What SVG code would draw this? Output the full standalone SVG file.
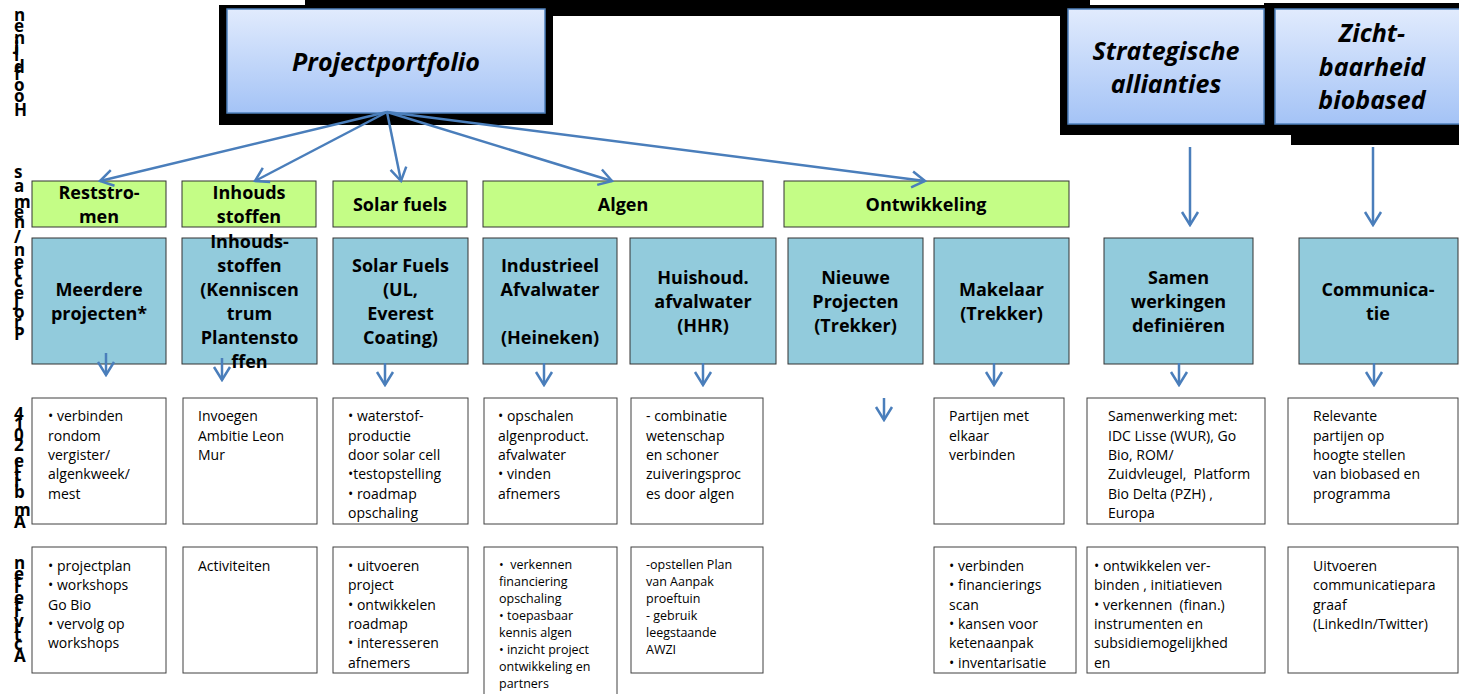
<svg xmlns="http://www.w3.org/2000/svg" width="1459" height="694" viewBox="0 0 1459 694">
<style>
.side{font-family:"Open Sans","Liberation Sans",sans-serif;font-weight:bold;font-size:17px;fill:#000}
.top{font-family:"Open Sans","Liberation Sans",sans-serif;font-weight:bold;font-style:italic;font-size:25px;fill:#000;text-anchor:middle}
.hdr{fill:#c4fd86;stroke:#333;stroke-width:1}
.blue{fill:#92cbdc;stroke:#333;stroke-width:1}
.wbox{fill:#fff;stroke:#404040;stroke-width:1}
.bt{font-family:"Open Sans","Liberation Sans",sans-serif;font-weight:bold;font-size:18px;fill:#000;text-anchor:middle}
.wt{font-family:"Open Sans","Liberation Sans",sans-serif;font-size:14px;fill:#000}
.st{font-family:"Open Sans","Liberation Sans",sans-serif;font-size:12.5px;fill:#000}
.conn{stroke:#4a7ebb;stroke-width:2.5;fill:none}
.tb{stroke:#4f81bd;stroke-width:1.5;fill:url(#g)}
</style>
<defs>
<linearGradient id="g" x1="0" y1="0" x2="0" y2="1">
<stop offset="0" stop-color="#e1ebfd"/>
<stop offset="1" stop-color="#a4c3f6"/>
</linearGradient>
<marker id="ah" viewBox="-16 -10 18 20" refX="0" refY="0" markerWidth="18" markerHeight="20" markerUnits="userSpaceOnUse" orient="auto">
<path d="M-13,-8 L0,0 L-13,8" fill="none" stroke="#4a7ebb" stroke-width="2.5"/>
</marker>
</defs>
<rect width="1459" height="694" fill="#fff"/>

<!-- side labels -->
<g id="side-labels">
<text class="side" transform="translate(14,116) rotate(-90)" rotate="90" textLength="106" lengthAdjust="spacing">Hoofdlijnen</text>
<text class="side" x="14 14 14 14 14" y="178 192 208 218 228">samen</text>
<text class="side" transform="translate(14,340) rotate(-90)" rotate="90" textLength="104" lengthAdjust="spacing">Projecten/</text>
<text class="side" transform="translate(14,528) rotate(-90)" rotate="90" textLength="118" lengthAdjust="spacing">Ambitie 2014</text>
<text class="side" transform="translate(14,662) rotate(-90)" rotate="90" textLength="104" lengthAdjust="spacing">Activiteiten</text>
</g>

<!-- top boxes -->
<g id="shadows">
<rect x="305" y="0" width="785" height="16" fill="#000"/>
<rect x="219" y="5" width="334" height="120" fill="#000"/>
<rect x="1060" y="5" width="231" height="130" fill="#000"/>
<rect x="1264" y="3" width="195" height="121" fill="#000"/>
<rect x="1291" y="124" width="168" height="21" fill="#000"/>
</g>
<g id="projectportfolio">
<rect class="tb" x="227" y="9" width="318" height="104"/>
<text class="top" x="386" y="71">Projectportfolio</text>
</g>
<g id="strategische">
<rect class="tb" x="1068" y="9" width="196" height="115"/>
<text class="top" x="1166" y="60">Strategische</text>
<text class="top" x="1166" y="93">allianties</text>
</g>
<g id="zichtbaarheid">
<rect class="tb" x="1275" y="9" width="190" height="115"/>
<text class="top" x="1372" y="42">Zicht-</text>
<text class="top" x="1372" y="76">baarheid</text>
<text class="top" x="1372" y="109">biobased</text>
</g>

<!-- headers -->
<g id="h-reststromen"><rect class="hdr" x="32" y="181" width="134" height="46"/>
<text class="bt" x="99" y="199">Reststro-</text><text class="bt" x="99" y="223">men</text></g>
<g id="h-inhoud"><rect class="hdr" x="182" y="181" width="134" height="46"/>
<text class="bt" x="249" y="199">Inhouds</text><text class="bt" x="249" y="223">stoffen</text></g>
<g id="h-solar"><rect class="hdr" x="333" y="181" width="134" height="46"/>
<text class="bt" x="400" y="211">Solar fuels</text></g>
<g id="h-algen"><rect class="hdr" x="483" y="181" width="280" height="46"/>
<text class="bt" x="623" y="211">Algen</text></g>
<g id="h-ontwikkeling"><rect class="hdr" x="784" y="181" width="285" height="46"/>
<text class="bt" x="926" y="211">Ontwikkeling</text></g>

<!-- project boxes -->
<g id="p-meerdere"><rect class="blue" x="32" y="238" width="134" height="126"/>
<text class="bt" x="99" y="296">Meerdere</text><text class="bt" x="99" y="320">projecten*</text></g>
<g id="p-inhoud"><rect class="blue" x="182" y="238" width="135" height="126"/>
<text class="bt" x="249.5" y="248">Inhouds-</text><text class="bt" x="249.5" y="272">stoffen</text><text class="bt" x="249.5" y="296">(Kenniscen</text><text class="bt" x="249.5" y="320">trum</text><text class="bt" x="249.5" y="344">Plantensto</text><text class="bt" x="249.5" y="368">ffen</text></g>
<g id="p-solar"><rect class="blue" x="333" y="238" width="135" height="126"/>
<text class="bt" x="400.5" y="272">Solar Fuels</text><text class="bt" x="400.5" y="296">(UL,</text><text class="bt" x="400.5" y="320">Everest</text><text class="bt" x="400.5" y="344">Coating)</text></g>
<g id="p-industrieel"><rect class="blue" x="483" y="238" width="134" height="126"/>
<text class="bt" x="550" y="272">Industrieel</text><text class="bt" x="550" y="296">Afvalwater</text><text class="bt" x="550" y="344">(Heineken)</text></g>
<g id="p-huishoud"><rect class="blue" x="630" y="238" width="146" height="126"/>
<text class="bt" x="703" y="284">Huishoud.</text><text class="bt" x="703" y="308">afvalwater</text><text class="bt" x="703" y="332">(HHR)</text></g>
<g id="p-nieuwe"><rect class="blue" x="788" y="238" width="135" height="126"/>
<text class="bt" x="855.5" y="284">Nieuwe</text><text class="bt" x="855.5" y="308">Projecten</text><text class="bt" x="855.5" y="332">(Trekker)</text></g>
<g id="p-makelaar"><rect class="blue" x="934" y="238" width="135" height="126"/>
<text class="bt" x="1001.5" y="296">Makelaar</text><text class="bt" x="1001.5" y="320">(Trekker)</text></g>
<g id="p-samen"><rect class="blue" x="1104" y="238" width="149" height="126"/>
<text class="bt" x="1178.5" y="284">Samen</text><text class="bt" x="1178.5" y="308">werkingen</text><text class="bt" x="1178.5" y="332">definiëren</text></g>
<g id="p-communicatie"><rect class="blue" x="1299" y="238" width="159" height="126"/>
<text class="bt" x="1378" y="296">Communica-</text><text class="bt" x="1378" y="320">tie</text></g>

<!-- ambitie boxes -->
<g id="a-reststromen"><rect class="wbox" x="32" y="398" width="134" height="126"/>
<text class="wt"><tspan x="48" y="421">• verbinden</tspan><tspan x="48" y="440.5">rondom</tspan><tspan x="48" y="460">vergister/</tspan><tspan x="48" y="479">algenkweek/</tspan><tspan x="48" y="498.5">mest</tspan></text></g>
<g id="a-inhoud"><rect class="wbox" x="183" y="398" width="134" height="126"/>
<text class="wt"><tspan x="198" y="421">Invoegen</tspan><tspan x="198" y="440.5">Ambitie Leon</tspan><tspan x="198" y="460">Mur</tspan></text></g>
<g id="a-solar"><rect class="wbox" x="333" y="398" width="135" height="126"/>
<text class="wt"><tspan x="348" y="421">• waterstof-</tspan><tspan x="348" y="440.5">productie</tspan><tspan x="348" y="460">door solar cell</tspan><tspan x="348" y="479">•testopstelling</tspan><tspan x="348" y="498.5">• roadmap</tspan><tspan x="348" y="518">opschaling</tspan></text></g>
<g id="a-industrieel"><rect class="wbox" x="484" y="398" width="133" height="126"/>
<text class="wt"><tspan x="498" y="421">• opschalen</tspan><tspan x="498" y="440.5">algenproduct.</tspan><tspan x="498" y="460">afvalwater</tspan><tspan x="498" y="479">• vinden</tspan><tspan x="498" y="498.5">afnemers</tspan></text></g>
<g id="a-huishoud"><rect class="wbox" x="631" y="398" width="132" height="126"/>
<text class="wt"><tspan x="646" y="421">- combinatie</tspan><tspan x="646" y="440.5">wetenschap</tspan><tspan x="646" y="460">en schoner</tspan><tspan x="646" y="479">zuiveringsproc</tspan><tspan x="646" y="498.5">es door algen</tspan></text></g>
<g id="a-makelaar"><rect class="wbox" x="934" y="398" width="130" height="126"/>
<text class="wt"><tspan x="949" y="421">Partijen met</tspan><tspan x="949" y="440.5">elkaar</tspan><tspan x="949" y="460">verbinden</tspan></text></g>
<g id="a-samen"><rect class="wbox" x="1087" y="398" width="178" height="126"/>
<text class="wt" xml:space="preserve"><tspan x="1108" y="421">Samenwerking met:</tspan><tspan x="1108" y="440.5">IDC Lisse (WUR), Go</tspan><tspan x="1108" y="460">Bio, ROM/</tspan><tspan x="1108" y="479">Zuidvleugel,  Platform</tspan><tspan x="1108" y="498.5">Bio Delta (PZH) ,</tspan><tspan x="1108" y="518">Europa</tspan></text></g>
<g id="a-communicatie"><rect class="wbox" x="1288" y="398" width="170" height="126"/>
<text class="wt"><tspan x="1313" y="421">Relevante</tspan><tspan x="1313" y="440.5">partijen op</tspan><tspan x="1313" y="460">hoogte stellen</tspan><tspan x="1313" y="479">van biobased en</tspan><tspan x="1313" y="498.5">programma</tspan></text></g>

<!-- activiteiten boxes -->
<g id="b-reststromen"><rect class="wbox" x="32" y="547" width="134" height="126"/>
<text class="wt"><tspan x="48" y="571">• projectplan</tspan><tspan x="48" y="590">• workshops</tspan><tspan x="48" y="609.5">Go Bio</tspan><tspan x="48" y="629">• vervolg op</tspan><tspan x="48" y="648">workshops</tspan></text></g>
<g id="b-inhoud"><rect class="wbox" x="183" y="547" width="134" height="126"/>
<text class="wt"><tspan x="198" y="571">Activiteiten</tspan></text></g>
<g id="b-solar"><rect class="wbox" x="333" y="547" width="135" height="126"/>
<text class="wt"><tspan x="348" y="571">• uitvoeren</tspan><tspan x="348" y="590">project</tspan><tspan x="348" y="609.5">• ontwikkelen</tspan><tspan x="348" y="629">roadmap</tspan><tspan x="348" y="648">• interesseren</tspan><tspan x="348" y="667.5">afnemers</tspan></text></g>
<g id="b-industrieel"><rect class="wbox" x="484" y="547" width="133" height="160"/>
<text class="st" xml:space="preserve"><tspan x="499" y="569">•  verkennen</tspan><tspan x="499" y="586">financiering</tspan><tspan x="499" y="603">opschaling</tspan><tspan x="499" y="620">• toepasbaar</tspan><tspan x="499" y="637">kennis algen</tspan><tspan x="499" y="654">• inzicht project</tspan><tspan x="499" y="671">ontwikkeling en</tspan><tspan x="499" y="688">partners</tspan></text></g>
<g id="b-huishoud"><rect class="wbox" x="631" y="547" width="132" height="126"/>
<text class="st"><tspan x="646" y="569">-opstellen Plan</tspan><tspan x="646" y="586">van Aanpak</tspan><tspan x="646" y="603">proeftuin</tspan><tspan x="646" y="620">- gebruik</tspan><tspan x="646" y="637">leegstaande</tspan><tspan x="646" y="654">AWZI</tspan></text></g>
<g id="b-makelaar"><rect class="wbox" x="934" y="547" width="142" height="126"/>
<text class="wt"><tspan x="949" y="571">• verbinden</tspan><tspan x="949" y="590">• financierings</tspan><tspan x="949" y="609.5">scan</tspan><tspan x="949" y="629">• kansen voor</tspan><tspan x="949" y="648">ketenaanpak</tspan><tspan x="949" y="667.5">• inventarisatie</tspan></text></g>
<g id="b-samen"><rect class="wbox" x="1087" y="547" width="178" height="126"/>
<text class="wt" xml:space="preserve"><tspan x="1094" y="571">• ontwikkelen ver-</tspan><tspan x="1094" y="590">binden , initiatieven</tspan><tspan x="1094" y="609.5">• verkennen  (finan.)</tspan><tspan x="1094" y="629">instrumenten en</tspan><tspan x="1094" y="648">subsidiemogelijkhed</tspan><tspan x="1094" y="667.5">en</tspan></text></g>
<g id="b-communicatie"><rect class="wbox" x="1288" y="547" width="170" height="126"/>
<text class="wt"><tspan x="1313" y="571">Uitvoeren</tspan><tspan x="1313" y="590">communicatiepara</tspan><tspan x="1313" y="609.5">graaf</tspan><tspan x="1313" y="629">(LinkedIn/Twitter)</tspan></text></g>

<!-- connectors -->
<g id="connectors">
<line class="conn" x1="387" y1="112" x2="100" y2="181" marker-end="url(#ah)"/>
<line class="conn" x1="387" y1="112" x2="255" y2="181" marker-end="url(#ah)"/>
<line class="conn" x1="387" y1="112" x2="401" y2="181" marker-end="url(#ah)"/>
<line class="conn" x1="387" y1="112" x2="612" y2="181" marker-end="url(#ah)"/>
<line class="conn" x1="387" y1="112" x2="925" y2="181" marker-end="url(#ah)"/>
<line class="conn" x1="1190" y1="147" x2="1190" y2="225" marker-end="url(#ah)"/>
<line class="conn" x1="1373" y1="147" x2="1373" y2="225" marker-end="url(#ah)"/>
<line class="conn" x1="106" y1="353" x2="106" y2="375" marker-end="url(#ah)"/>
<line class="conn" x1="222" y1="358" x2="222" y2="380" marker-end="url(#ah)"/>
<line class="conn" x1="385" y1="363" x2="385" y2="385" marker-end="url(#ah)"/>
<line class="conn" x1="544" y1="363" x2="544" y2="385" marker-end="url(#ah)"/>
<line class="conn" x1="703" y1="363" x2="703" y2="385" marker-end="url(#ah)"/>
<line class="conn" x1="884" y1="398" x2="884" y2="420" marker-end="url(#ah)"/>
<line class="conn" x1="994" y1="363" x2="994" y2="385" marker-end="url(#ah)"/>
<line class="conn" x1="1179" y1="363" x2="1179" y2="385" marker-end="url(#ah)"/>
<line class="conn" x1="1374" y1="363" x2="1374" y2="385" marker-end="url(#ah)"/>
</g>
</svg>
